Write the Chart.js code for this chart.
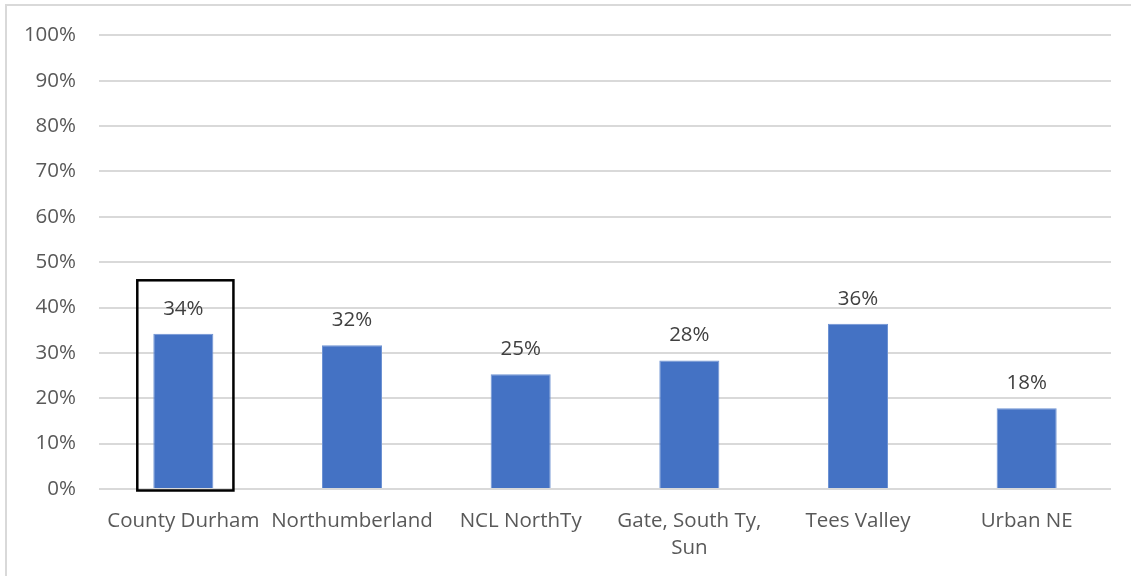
<!DOCTYPE html>
<html>
<head>
<meta charset="utf-8">
<script src="https://cdn.jsdelivr.net/npm/chart.js@4"></script>
<style>
  html, body { margin: 0; padding: 0; background: #ffffff; }
  #wrap { position: relative; width: 1131px; height: 576px; }
</style>
</head>
<body>
<div id="wrap"><canvas id="chart" width="1131" height="576"></canvas></div>
<script>
// Share of respondents by area
const areas = ['County Durham', 'Northumberland', 'NCL NorthTy', ['Gate, South Ty,', 'Sun'], 'Tees Valley', 'Urban NE'];
const shares = [34.2, 31.7, 25.3, 28.3, 36.4, 17.8];
const yTicks = [0, 10, 20, 30, 40, 50, 60, 70, 80, 90, 100];

// highlighted category and the top of its box (in axis units)
const highlightIndex = 0;
const highlightTop = 46;

const FONT = '"Open Sans", "Liberation Sans", sans-serif';

// light frame round the whole chart
const framePlugin = {
    id: 'frame',
    beforeDraw(chart) {
        const ctx = chart.ctx;
        ctx.save();
        ctx.fillStyle = '#ffffff';
        ctx.fillRect(0, 0, chart.width, chart.height);
        ctx.strokeStyle = '#d9d9d9';
        ctx.lineWidth = 2;
        ctx.strokeRect(6, 5, chart.width + 10, chart.height + 10);
        ctx.restore();
    }
};

// value labels above each bar
const valueLabels = {
    id: 'valueLabels',
    afterDatasetsDraw(chart) {
        const ctx = chart.ctx;
        const meta = chart.getDatasetMeta(0);
        ctx.save();
        ctx.font = '20.5px ' + FONT;
        ctx.fillStyle = '#404040';
        ctx.textAlign = 'center';
        ctx.textBaseline = 'middle';
        meta.data.forEach((bar, i) => {
            ctx.fillText(Math.round(shares[i]) + '%', bar.x, bar.y - 25);
        });
        ctx.restore();
    }
};

// black box round the highlighted bar
const highlightBox = {
    id: 'highlightBox',
    afterDatasetsDraw(chart) {
        const x = chart.scales.x;
        const y = chart.scales.y;
        const step = x.width / areas.length;
        const cx = x.getPixelForValue(highlightIndex) + step * 0.012;
        const half = step * 0.285;
        const top = y.getPixelForValue(highlightTop);
        const bottom = y.getPixelForValue(0) + 1.5;
        const ctx = chart.ctx;
        ctx.save();
        ctx.strokeStyle = '#000000';
        ctx.lineWidth = 2.5;
        ctx.strokeRect(cx - half, top, half * 2, bottom - top);
        ctx.restore();
    }
};

new Chart(document.getElementById('chart'), {
    type: 'bar',
    data: {
        labels: areas,
        datasets: [{
            data: shares,
            backgroundColor: '#4472c4',
            borderColor: '#6f93d3',
            borderWidth: 1,
            barPercentage: 0.356,
            categoryPercentage: 1
        }]
    },
    options: {
        responsive: false,
        animation: false,
        layout: { padding: { left: 0, right: 20, top: 33, bottom: 0 } },
        plugins: {
            legend: { display: false },
            tooltip: { enabled: false }
        },
        scales: {
            x: {
                grid: { display: false, drawTicks: false },
                border: { display: false },
                ticks: {
                    color: '#595959',
                    font: { family: FONT, size: 20.5, lineHeight: 1.32 },
                    padding: 19,
                    maxRotation: 0,
                    autoSkip: false
                },
                afterFit(scale) { scale.height = 87; }
            },
            y: {
                min: 0,
                max: 100,
                afterBuildTicks(scale) {
                    scale.ticks = yTicks.map(v => ({ value: v }));
                },
                grid: { color: '#d9d9d9', lineWidth: 2, drawTicks: false },
                border: { display: false },
                ticks: {
                    color: '#595959',
                    font: { family: FONT, size: 20.5 },
                    padding: 23,
                    callback: v => v + '%'
                },
                afterFit(scale) { scale.width = 99; }
            }
        }
    },
    plugins: [framePlugin, valueLabels, highlightBox]
});
</script>
</body>
</html>
